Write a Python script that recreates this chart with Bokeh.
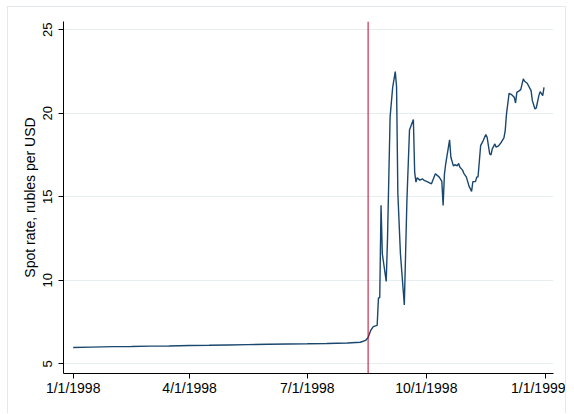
import pandas as pd
from bokeh.plotting import figure
from bokeh.models import Range1d, FixedTicker, Span, Label, BoxAnnotation
from bokeh.embed import file_html
from bokeh.resources import INLINE

# ---- data ----
dates = [
    "1998-01-01", "1998-01-15", "1998-02-01", "1998-02-15", "1998-03-01", "1998-03-16",
    "1998-04-01", "1998-04-16", "1998-05-01", "1998-05-16", "1998-06-01", "1998-06-16",
    "1998-07-01", "1998-07-16", "1998-08-01", "1998-08-11", "1998-08-15", "1998-08-17",
    "1998-08-19", "1998-08-21", "1998-08-24", "1998-08-25", "1998-08-26", "1998-08-27",
    "1998-08-28", "1998-08-31", "1998-09-01", "1998-09-03", "1998-09-05", "1998-09-07",
    "1998-09-08", "1998-09-09", "1998-09-11", "1998-09-14", "1998-09-16", "1998-09-18",
    "1998-09-21", "1998-09-22", "1998-09-23", "1998-09-24", "1998-09-26", "1998-09-28",
    "1998-09-29", "1998-10-02", "1998-10-05", "1998-10-08", "1998-10-11", "1998-10-13",
    "1998-10-14", "1998-10-15", "1998-10-16", "1998-10-19", "1998-10-20", "1998-10-22",
    "1998-10-23", "1998-10-25", "1998-10-26", "1998-10-27", "1998-10-29", "1998-10-30",
    "1998-11-01", "1998-11-03", "1998-11-05", "1998-11-06", "1998-11-08", "1998-11-09",
    "1998-11-10", "1998-11-12", "1998-11-14", "1998-11-16", "1998-11-17", "1998-11-19",
    "1998-11-20", "1998-11-21", "1998-11-23", "1998-11-24", "1998-11-26", "1998-11-28",
    "1998-11-30", "1998-12-01", "1998-12-02", "1998-12-04", "1998-12-06", "1998-12-08",
    "1998-12-09", "1998-12-10", "1998-12-12", "1998-12-13", "1998-12-15", "1998-12-16",
    "1998-12-18", "1998-12-21", "1998-12-22", "1998-12-24", "1998-12-25", "1998-12-27",
    "1998-12-28", "1998-12-30", "1998-12-31",
]
rate = [
    5.98, 6.00, 6.03, 6.04, 6.06, 6.07,
    6.10, 6.11, 6.13, 6.15, 6.17, 6.19,
    6.20, 6.22, 6.25, 6.29, 6.40, 6.58,
    7.00, 7.23, 7.30, 8.95, 8.95, 14.50,
    11.58, 9.93, 12.48, 19.77, 21.56, 22.50,
    21.60, 15.20, 11.58, 8.53, 14.78, 19.00,
    19.63, 16.48, 15.88, 16.14, 16.00, 16.08,
    16.00, 15.90, 15.78, 16.38, 16.18, 15.93,
    14.48, 16.34, 16.98, 18.41, 17.37, 16.84,
    16.92, 16.86, 17.00, 16.77, 16.60, 16.41,
    16.18, 15.64, 15.33, 15.91, 15.91, 16.18,
    16.20, 18.07, 18.37, 18.73, 18.57, 17.57,
    17.51, 17.87, 18.17, 17.97, 18.07, 18.27,
    18.53, 18.97, 19.97, 21.20, 21.12, 20.96,
    20.62, 21.26, 21.36, 21.42, 22.06, 21.92,
    21.80, 21.36, 20.76, 20.26, 20.32, 21.06,
    21.30, 21.06, 21.56,
]
event_date = "1998-08-17"
x_tick_dates = ["1998-01-01", "1998-04-01", "1998-07-01", "1998-10-01", "1999-01-01"]
x_tick_labels = ["1/1/1998", "4/1/1998", "7/1/1998", "10/1/1998", "1/1/1999"]
y_ticks = [5, 10, 15, 20, 25]
y_title = "Spot rate, rubles per USD"
caption = "(b) 1998 default in Russia"


def ms(s):
    return pd.Timestamp(s).value / 1e6


FONT = "Liberation Sans"
FRAME = "#e2e9ec"

p = figure(
    width=559, height=407,
    x_axis_type="datetime",
    x_range=Range1d(ms("1997-12-24 12:00"), ms("1999-01-07 08:00")),
    y_range=Range1d(4.42, 25.5),
    output_backend="svg", toolbar_location=None,
    min_border_left=55, min_border_right=14, min_border_top=14, min_border_bottom=41,
)
p.styles = {
    "margin-left": "7px", "margin-top": "6px",
    "border-top": f"1px solid {FRAME}", "border-left": f"1px solid {FRAME}",
    "border-right": f"1px solid {FRAME}",
}
p.outline_line_color = None
p.background_fill_color = "white"
p.border_fill_color = "white"

p.line(x=pd.to_datetime(dates), y=rate, line_color="#1a476f", line_width=1.4)

p.add_layout(Span(location=ms(event_date), dimension="height",
                  line_color="#b8082a", line_width=1))

# grid
p.xgrid.visible = False
p.ygrid.ticker = FixedTicker(ticks=y_ticks)
p.ygrid.grid_line_color = "#e6eef0"
p.ygrid.grid_line_width = 1

# x axis
xt = [ms(d) for d in x_tick_dates]
p.xaxis.ticker = FixedTicker(ticks=xt)
p.xaxis.major_label_overrides = {t: l for t, l in zip(xt, x_tick_labels)}
p.xaxis.minor_tick_line_color = None
p.xaxis.major_tick_out = 5
p.xaxis.major_tick_in = 0
p.xaxis.major_label_standoff = 1
p.xaxis.major_label_text_font = FONT
p.xaxis.major_label_text_font_size = "14px"
p.xaxis.major_label_text_color = "black"
p.xaxis.axis_line_color = "black"
p.xaxis.major_tick_line_color = "black"

# y axis
p.yaxis.ticker = FixedTicker(ticks=y_ticks)
p.yaxis.major_label_orientation = "vertical"
p.yaxis.minor_tick_line_color = None
p.yaxis.major_tick_out = 5
p.yaxis.major_tick_in = 0
p.yaxis.major_label_standoff = 6
p.yaxis.major_label_text_font = FONT
p.yaxis.major_label_text_font_size = "13px"
p.yaxis.major_label_text_color = "black"
p.yaxis.axis_label = y_title
p.yaxis.axis_label_text_font = FONT
p.yaxis.axis_label_text_font_style = "normal"
p.yaxis.axis_label_text_font_size = "14px"
p.yaxis.axis_label_text_color = "black"
p.yaxis.axis_label_standoff = 3
p.yaxis.axis_line_color = "black"
p.yaxis.major_tick_line_color = "black"

# bottom edge of the outer graph frame
p.add_layout(BoxAnnotation(left=0, right=559, top=405, bottom=406,
                           left_units="canvas", right_units="canvas",
                           top_units="canvas", bottom_units="canvas",
                           fill_color=FRAME, fill_alpha=1, line_color=None,
                           level="underlay"))

p.add_layout(Label(x=154, y=423, x_units="canvas", y_units="canvas", text=caption,
                   text_font="Liberation Serif", text_font_size="31px",
                   text_align="left", text_baseline="alphabetic", text_color="black"))

open("out.html", "w").write(file_html(p, INLINE))
